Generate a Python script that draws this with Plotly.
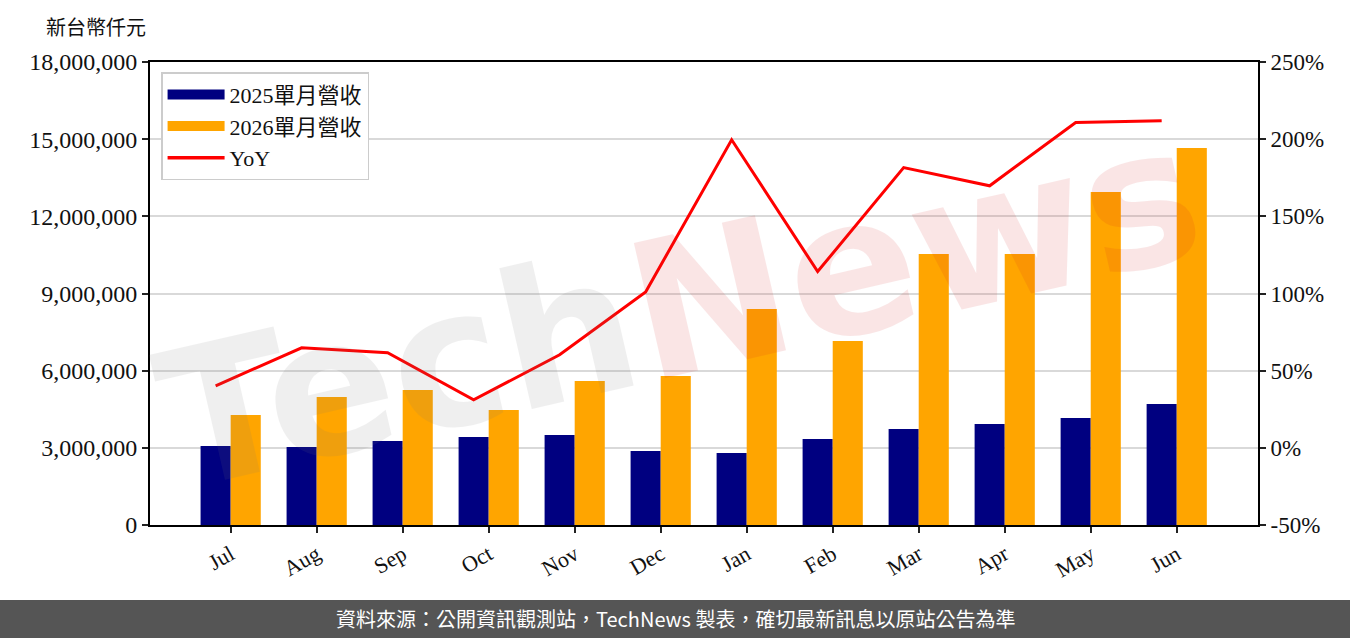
import plotly.graph_objects as go

months = ["Jul", "Aug", "Sep", "Oct", "Nov", "Dec", "Jan", "Feb", "Mar", "Apr", "May", "Jun"]
rev_2025 = [3070000, 3030000, 3270000, 3420000, 3500000, 2880000, 2800000, 3340000, 3730000, 3930000, 4160000, 4700000]
rev_2026 = [4280000, 4980000, 5250000, 4470000, 5600000, 5790000, 8400000, 7150000, 10540000, 10540000, 12950000, 14660000]
yoy = [40.2, 64.8, 61.6, 31.1, 60.3, 101.0, 199.6, 114.2, 181.6, 169.8, 210.8, 212.0]
left_ticks = [0, 3000000, 6000000, 9000000, 12000000, 15000000, 18000000]
right_ticks = [-50, 0, 50, 100, 150, 200, 250]

idx = list(range(len(months)))
bar_w = 0.35

SERIF = "Liberation Serif, Noto Sans CJK TC, serif"
CJK = "Noto Sans CJK TC, sans-serif"
C25, C26, CY = "#000080", "#FFA500", "#FF0000"

fig = go.Figure()
fig.add_trace(go.Bar(x=idx, y=rev_2025, name="2025單月營收", marker_color=C25,
                     marker_line_width=0, yaxis="y", showlegend=False))
fig.add_trace(go.Bar(x=idx, y=rev_2026, name="2026單月營收", marker_color=C26,
                     marker_line_width=0, yaxis="y", showlegend=False))
fig.add_trace(go.Scatter(x=[i - bar_w / 2 for i in idx], y=yoy, name="YoY", mode="lines",
                         line=dict(color=CY, width=3), yaxis="y2", showlegend=False))
# legend entries (wide patch style)
fig.add_trace(go.Scatter(x=[None], y=[None], name="2025單月營收", mode="lines",
                         line=dict(color=C25, width=16), yaxis="y"))
fig.add_trace(go.Scatter(x=[None], y=[None], name="2026單月營收", mode="lines",
                         line=dict(color=C26, width=16), yaxis="y"))
fig.add_trace(go.Scatter(x=[None], y=[None], name="YoY", mode="lines",
                         line=dict(color=CY, width=3.5), yaxis="y"))

fig.update_layout(
    width=1350, height=638,
    margin=dict(l=150, r=92, t=62, b=113),
    paper_bgcolor="white", plot_bgcolor="white",
    barmode="group", bargap=0.3, bargroupgap=0,
    font=dict(family=SERIF, size=21, color="#111"),
    showlegend=True,
    legend=dict(x=0.01, y=0.978, xanchor="left", yanchor="top",
                bgcolor="white", bordercolor="#cccccc", borderwidth=1.5,
                font=dict(family=SERIF, size=22, color="#111"),
                tracegroupgap=0, itemwidth=57),
    xaxis=dict(
        range=[-0.938, 11.945], tickmode="array", tickvals=idx, ticktext=months,
        tickangle=-30, ticks="outside", ticklen=6, tickwidth=2, tickcolor="#222",
        showline=True, linecolor="black", linewidth=2, mirror=True,
        showgrid=False, zeroline=False,
        tickfont=dict(family=SERIF, size=22, color="#111"),
    ),
    yaxis=dict(
        range=[0, 18000000], tickmode="array", tickvals=left_ticks,
        ticktext=[f"{v:,}" for v in left_ticks],
        ticks="outside", ticklen=6, tickwidth=2, tickcolor="#222",
        showline=True, linecolor="black", linewidth=2, mirror=True,
        showgrid=True, gridcolor="#d9d9d9", gridwidth=1.5, zeroline=False,
        tickfont=dict(family=SERIF, size=24, color="#111"),
    ),
    yaxis2=dict(
        range=[-50, 250], overlaying="y", side="right", tickmode="array",
        tickvals=right_ticks, ticktext=[f"{v}%" for v in right_ticks],
        ticks="outside", ticklen=6, tickwidth=2, tickcolor="#222",
        showline=True, linecolor="black", linewidth=2,
        showgrid=False, zeroline=False,
        tickfont=dict(family=SERIF, size=23, color="#111"),
    ),
)

# footer band
fig.add_shape(type="rect", xref="paper", yref="paper",
              x0=-0.2, x1=1.2, y0=-0.162, y1=-0.26,
              fillcolor="#555555", line_width=0, layer="above")
fig.add_annotation(xref="paper", yref="paper", x=(675 - 150) / 1108, y=-0.203,
                   xanchor="center", yanchor="middle", showarrow=False,
                   text="資料來源：公開資訊觀測站，TechNews 製表，確切最新訊息以原站公告為準",
                   font=dict(family=CJK, size=20, color="white"))

# unit label
fig.add_annotation(xref="paper", yref="paper", x=-0.0957, y=1.0756,
                   xanchor="left", yanchor="middle", showarrow=False,
                   text="新台幣仟元", font=dict(family=CJK, size=20, color="#111"))

# watermark
fig.add_annotation(xref="paper", yref="paper", x=0.478, y=0.47,
                   xanchor="center", yanchor="middle", showarrow=False,
                   textangle=-13, opacity=0.11,
                   text="<b><span style='color:#777777'>Tech</span><span style='color:#d42020'>News</span></b>",
                   font=dict(family="DejaVu Sans, sans-serif", size=190))

fig.write_html("out.html")
